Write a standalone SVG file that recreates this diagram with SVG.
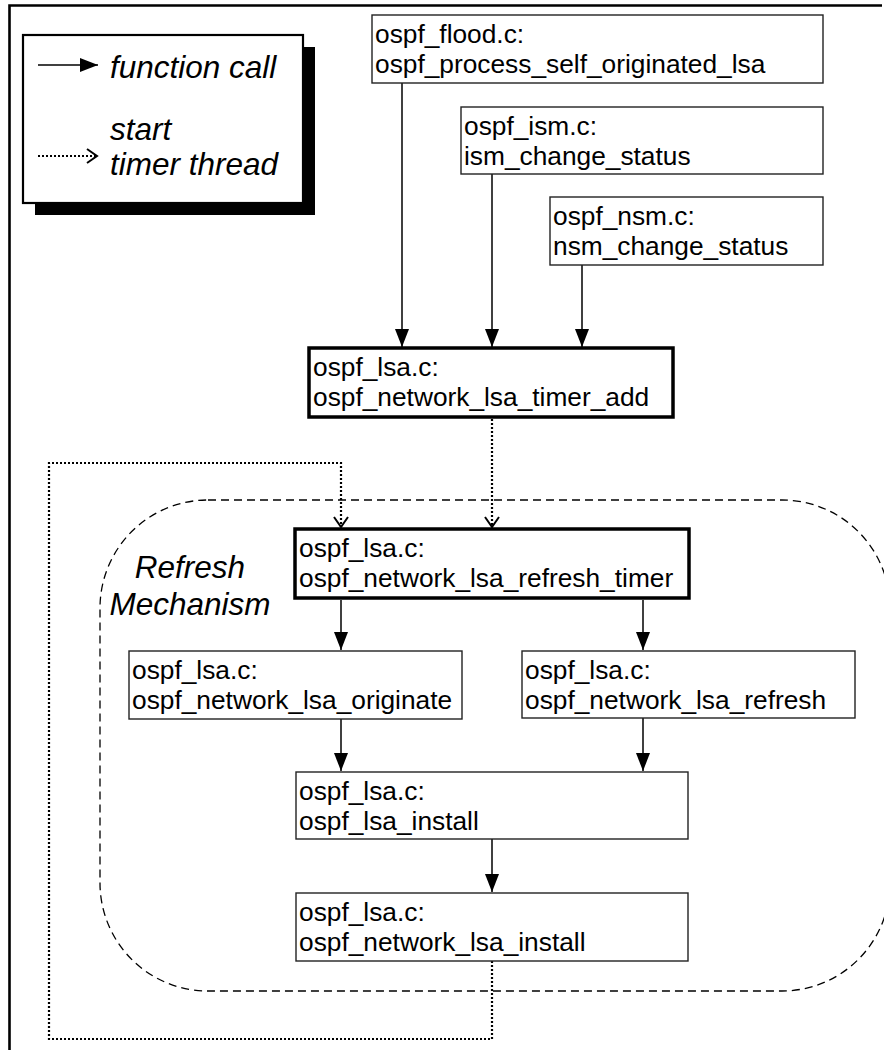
<svg xmlns="http://www.w3.org/2000/svg" width="884" height="1050" viewBox="0 0 884 1050">
<style>
.box{fill:#fff;stroke:#222;stroke-width:1.4}
.thick{fill:#fff;stroke:#000;stroke-width:3.5}
.t{font-family:"Liberation Sans",Arial,sans-serif;font-size:26.3px;fill:#000}
.it{font-family:"Liberation Sans",Arial,sans-serif;font-size:31.5px;font-style:italic;fill:#000}
.call{stroke:#000;stroke-width:1.5;fill:none;marker-end:url(#solid)}
.timer{stroke:#000;stroke-width:2.2;stroke-dasharray:2 2;fill:none}
</style>
<defs>
<marker id="solid" markerUnits="userSpaceOnUse" markerWidth="18" markerHeight="14" refX="18" refY="7" orient="auto">
<path d="M0,0 L18,7 L0,14 z" fill="#000"/>
</marker>
<marker id="open" markerUnits="userSpaceOnUse" markerWidth="14" markerHeight="18" refX="11" refY="8" orient="auto">
<path d="M1,1 L11,8 L1,15" fill="none" stroke="#000" stroke-width="2"/>
</marker>
</defs>
<rect width="884" height="1050" fill="#fff"/>
<!-- outer frame -->
<path d="M9.5,1050 L9.5,5.5 L882,5.5" fill="none" stroke="#000" stroke-width="2.6"/>

<!-- refresh mechanism region -->
<g id="refresh-mechanism">
<rect x="100" y="500" width="790" height="491" rx="108" ry="108" fill="none" stroke="#000" stroke-width="1.3" stroke-dasharray="8 5"/>
<text class="it" x="190" y="578" text-anchor="middle">Refresh</text>
<text class="it" x="190" y="615" text-anchor="middle">Mechanism</text>
</g>

<!-- legend -->
<g id="legend">
<rect x="35" y="47" width="280" height="168" fill="#000"/>
<rect x="23" y="35" width="280" height="168" fill="#fff" stroke="#000" stroke-width="2.2"/>
<line x1="38" y1="65" x2="98" y2="65" stroke="#000" stroke-width="1.5" marker-end="url(#solid)"/>
<text class="it" x="110" y="78">function call</text>
<line x1="38" y1="156" x2="97" y2="156" class="timer" marker-end="url(#open)"/>
<text class="it" x="110" y="140">start</text>
<text class="it" x="110" y="175">timer thread</text>
</g>

<g id="connectors">
<line class="call" x1="402" y1="83" x2="402" y2="347"/>
<line class="call" x1="492" y1="174" x2="492" y2="347"/>
<line class="call" x1="582" y1="265" x2="582" y2="347"/>
<line class="timer" x1="492" y1="419" x2="492" y2="527" marker-end="url(#open)"/>
<path class="timer" d="M492,961 L492,1039 L49,1039 L49,463 L341,463 L341,527" marker-end="url(#open)"/>
<line class="call" x1="341" y1="600" x2="341" y2="650"/>
<line class="call" x1="643" y1="600" x2="643" y2="650"/>
<line class="call" x1="341" y1="719" x2="341" y2="771"/>
<line class="call" x1="643" y1="718" x2="643" y2="771"/>
<line class="call" x1="492" y1="839" x2="492" y2="892"/>
</g>

<g id="flood">
<rect class="box" x="372" y="15" width="451" height="68"/>
<text class="t" x="375" y="43">ospf_flood.c:</text>
<text class="t" x="375" y="73">ospf_process_self_originated_lsa</text>
</g>
<g id="ism">
<rect class="box" x="461" y="107" width="362" height="67"/>
<text class="t" x="464" y="135">ospf_ism.c:</text>
<text class="t" x="464" y="165">ism_change_status</text>
</g>
<g id="nsm">
<rect class="box" x="550" y="197" width="273" height="68"/>
<text class="t" x="553" y="225">ospf_nsm.c:</text>
<text class="t" x="553" y="255">nsm_change_status</text>
</g>
<g id="timer-add">
<rect class="thick" x="309" y="348" width="364" height="69"/>
<text class="t" x="313" y="376">ospf_lsa.c:</text>
<text class="t" x="313" y="406">ospf_network_lsa_timer_add</text>
</g>
<g id="refresh-timer">
<rect class="thick" x="295" y="529" width="394" height="69"/>
<text class="t" x="299" y="557">ospf_lsa.c:</text>
<text class="t" x="299" y="587">ospf_network_lsa_refresh_timer</text>
</g>
<g id="originate">
<rect class="box" x="129" y="651" width="333" height="68"/>
<text class="t" x="132" y="679">ospf_lsa.c:</text>
<text class="t" x="132" y="709">ospf_network_lsa_originate</text>
</g>
<g id="refresh">
<rect class="box" x="522" y="651" width="333" height="67"/>
<text class="t" x="525" y="679">ospf_lsa.c:</text>
<text class="t" x="525" y="709">ospf_network_lsa_refresh</text>
</g>
<g id="lsa-install">
<rect class="box" x="296" y="772" width="392" height="67"/>
<text class="t" x="299" y="800">ospf_lsa.c:</text>
<text class="t" x="299" y="830">ospf_lsa_install</text>
</g>
<g id="network-lsa-install">
<rect class="box" x="296" y="893" width="392" height="68"/>
<text class="t" x="299" y="921">ospf_lsa.c:</text>
<text class="t" x="299" y="951">ospf_network_lsa_install</text>
</g>
</svg>
